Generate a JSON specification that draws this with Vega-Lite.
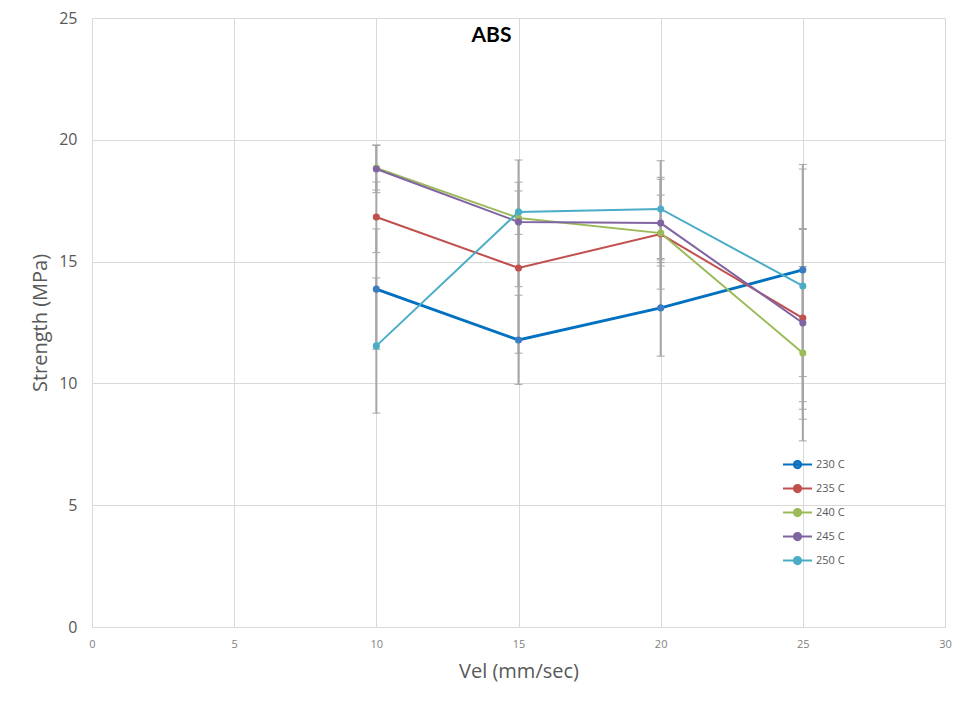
{
  "$schema": "https://vega.github.io/schema/vega-lite/v6.json",
  "autosize": {"type": "none"},
  "padding": {"left": 92, "top": 18, "right": 22, "bottom": 77},
  "width": 853,
  "height": 609,
  "background": "white",
  "title": {
    "text": "ABS",
    "font": "Lato",
    "fontSize": 21,
    "fontWeight": "bold",
    "color": "#000000",
    "anchor": "middle",
    "frame": "group",
    "baseline": "alphabetic",
    "offset": -20,
    "dx": -27,
    "dy": 33
  },
  "data": {
    "values": [
      {"series": "230 C", "vel": 10, "strength": 13.87, "lo": 11.40, "hi": 16.34},
      {"series": "230 C", "vel": 15, "strength": 11.78, "lo": 9.96, "hi": 13.62},
      {"series": "230 C", "vel": 20, "strength": 13.10, "lo": 11.12, "hi": 15.07},
      {"series": "230 C", "vel": 25, "strength": 14.66, "lo": 10.28, "hi": 18.99},
      {"series": "235 C", "vel": 10, "strength": 16.83, "lo": 15.37, "hi": 18.27},
      {"series": "235 C", "vel": 15, "strength": 14.74, "lo": 11.24, "hi": 18.26},
      {"series": "235 C", "vel": 20, "strength": 16.13, "lo": 14.96, "hi": 17.73},
      {"series": "235 C", "vel": 25, "strength": 12.68, "lo": 8.94, "hi": 16.36},
      {"series": "240 C", "vel": 10, "strength": 18.84, "lo": 17.94, "hi": 19.78},
      {"series": "240 C", "vel": 15, "strength": 16.79, "lo": 16.6, "hi": 17.0},
      {"series": "240 C", "vel": 20, "strength": 16.17, "lo": 13.87, "hi": 18.46},
      {"series": "240 C", "vel": 25, "strength": 11.25, "lo": 7.64, "hi": 14.8},
      {"series": "245 C", "vel": 10, "strength": 18.80, "lo": 17.83, "hi": 19.78},
      {"series": "245 C", "vel": 15, "strength": 16.63, "lo": 13.97, "hi": 19.17},
      {"series": "245 C", "vel": 20, "strength": 16.58, "lo": 14.82, "hi": 18.38},
      {"series": "245 C", "vel": 25, "strength": 12.48, "lo": 8.53, "hi": 16.32},
      {"series": "250 C", "vel": 10, "strength": 11.54, "lo": 8.78, "hi": 14.33},
      {"series": "250 C", "vel": 15, "strength": 17.04, "lo": 16.12, "hi": 17.90},
      {"series": "250 C", "vel": 20, "strength": 17.16, "lo": 15.13, "hi": 19.14},
      {"series": "250 C", "vel": 25, "strength": 14.00, "lo": 9.25, "hi": 18.80}
    ]
  },
  "encoding": {
    "x": {
      "field": "vel",
      "type": "quantitative",
      "scale": {"domain": [0, 30], "nice": false, "zero": true},
      "axis": {
        "title": "Vel (mm/sec)",
        "values": [0, 5, 10, 15, 20, 25, 30],
        "grid": true,
        "gridColor": "#d9d9d9",
        "gridWidth": 1,
        "domainColor": "#d9d9d9",
        "ticks": false,
        "labelFlush": false,
        "labelFont": "Open Sans",
        "labelFontSize": 11,
        "labelColor": "#7f7f7f",
        "labelPadding": 11,
        "titleFont": "Open Sans",
        "titleFontSize": 20,
        "titleFontWeight": "normal",
        "titleColor": "#595959",
        "titlePadding": 12
      }
    }
  },
  "layer": [
    {
      "mark": {"type": "errorbar", "ticks": {"size": 8, "color": "#808080", "strokeWidth": 1}, "rule": {"color": "#a6a6a6", "strokeWidth": 2}},
      "encoding": {
        "y": {"field": "lo", "type": "quantitative", "scale": {"domain": [0, 25], "nice": false}, "title": "Strength (MPa)"},
        "y2": {"field": "hi"},
        "detail": {"field": "series"}
      }
    },
    {
      "mark": {"type": "line"},
      "encoding": {
        "y": {
          "field": "strength",
          "type": "quantitative",
          "scale": {"domain": [0, 25], "nice": false},
          "axis": {
            "title": "Strength (MPa)",
            "values": [0, 5, 10, 15, 20, 25],
            "grid": true,
            "gridColor": "#d9d9d9",
            "domainColor": "#d9d9d9",
            "ticks": false,
            "labelFont": "Open Sans",
            "labelFontSize": 16,
            "labelColor": "#595959",
            "labelPadding": 15,
            "titleFont": "Open Sans",
            "titleFontSize": 20,
            "titleFontWeight": "normal",
            "titleColor": "#595959",
            "titlePadding": 8
          }
        },
        "color": {
          "field": "series",
          "type": "nominal",
          "scale": {
            "domain": ["230 C", "235 C", "240 C", "245 C", "250 C"],
            "range": ["#0070C0", "#C0504D", "#9BBB59", "#8064A2", "#4BACC6"]
          },
          "legend": {
            "title": null,
            "orient": "none",
            "legendX": 690,
            "legendY": 431,
            "symbolType": "M-1,0L1,0M-0.25,0A0.25,0.25 0 1,1 0.25,0A0.25,0.25 0 1,1 -0.25,0",
            "symbolSize": 841,
            "symbolStrokeWidth": 2,
            "symbolFillColor": null,
            "labelFont": "Open Sans",
            "labelFontSize": 11,
            "labelColor": "#595959",
            "labelOffset": 3,
            "rowPadding": -5
          }
        },
        "strokeWidth": {"condition": {"test": "datum.series === '230 C'", "value": 3}, "value": 2}
      }
    },
    {
      "mark": {"type": "circle", "size": 50, "opacity": 1},
      "encoding": {
        "y": {"field": "strength", "type": "quantitative"},
        "color": {"field": "series", "type": "nominal", "legend": null},
        "fill": {
          "field": "series",
          "type": "nominal",
          "scale": {
            "domain": ["230 C", "235 C", "240 C", "245 C", "250 C"],
            "range": ["#3C7CC2", "#C0504D", "#9BBB59", "#8064A2", "#4BACC6"]
          },
          "legend": null
        }
      }
    }
  ],
  "config": {
    "view": {"stroke": null},
    "axis": {"gridColor": "#d9d9d9"}
  }
}
